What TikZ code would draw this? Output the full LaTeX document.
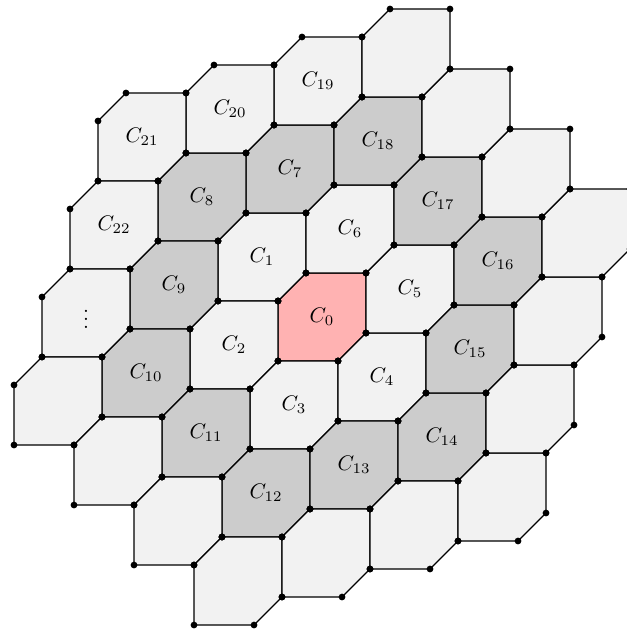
\documentclass[tikz,border=0pt]{standalone}
\begin{document}
\begin{tikzpicture}[x=0.0166667cm, y=-0.0166667cm]
\tikzset{
  hexcell/.style={draw=black, line width=0.6pt, line join=round},
  lightcell/.style={hexcell, fill=gray!10},
  darkcell/.style={hexcell, fill=gray!40},
  centercell/.style={hexcell, fill=red!30},
  vertexdot/.style={fill=black},
  celllabel/.style={inner sep=0pt}
}
\path[use as bounding box, clip] (0,0) rectangle (627,635);
% cells: a/b/style  (position = a*T1 + b*T2)
\foreach \a/\b/\s in {
  0/0/centercell,
  -1/1/lightcell, -1/0/lightcell, 0/-1/lightcell, 1/-1/lightcell, 1/0/lightcell, 0/1/lightcell,
  -1/2/darkcell, -2/2/darkcell, -2/1/darkcell, -2/0/darkcell, -1/-1/darkcell, 0/-2/darkcell,
  1/-2/darkcell, 2/-2/darkcell, 2/-1/darkcell, 2/0/darkcell, 1/1/darkcell, 0/2/darkcell,
  -1/3/lightcell, -2/3/lightcell, -3/3/lightcell, -3/2/lightcell, -3/1/lightcell, -3/0/lightcell,
  -2/-1/lightcell, -1/-2/lightcell, 0/-3/lightcell, 1/-3/lightcell, 2/-3/lightcell, 3/-3/lightcell,
  3/-2/lightcell, 3/-1/lightcell, 3/0/lightcell, 2/1/lightcell, 1/2/lightcell, 0/3/lightcell}{
  \pgfmathsetmacro{\px}{306+88*\a+28*\b}
  \pgfmathsetmacro{\py}{273-28*\a-88*\b}
  \path[\s] (\px,\py) -- ++(60,0) -- ++(0,60) -- ++(-28,28) -- ++(-60,0) -- ++(0,-60) -- cycle;
}
% vertex dots
\foreach \a/\b in {
  0/0, -1/1, -1/0, 0/-1, 1/-1, 1/0, 0/1,
  -1/2, -2/2, -2/1, -2/0, -1/-1, 0/-2, 1/-2, 2/-2, 2/-1, 2/0, 1/1, 0/2,
  -1/3, -2/3, -3/3, -3/2, -3/1, -3/0, -2/-1, -1/-2, 0/-3, 1/-3, 2/-3, 3/-3,
  3/-2, 3/-1, 3/0, 2/1, 1/2, 0/3}{
  \pgfmathsetmacro{\px}{306+88*\a+28*\b}
  \pgfmathsetmacro{\py}{273-28*\a-88*\b}
  \foreach \dx/\dy in {0/0, 60/0, 60/60, 32/88, -28/88, -28/28}{
    \fill[vertexdot] (\px+\dx,\py+\dy) circle (1.6pt);
  }
}
% labels
\foreach \a/\b/\l/\n in {
  0/0/{$C_0$}/c0, -1/1/{$C_1$}/c1, -1/0/{$C_2$}/c2, 0/-1/{$C_3$}/c3, 1/-1/{$C_4$}/c4,
  1/0/{$C_5$}/c5, 0/1/{$C_6$}/c6, -1/2/{$C_7$}/c7, -2/2/{$C_8$}/c8, -2/1/{$C_9$}/c9,
  -2/0/{$C_{10}$}/c10, -1/-1/{$C_{11}$}/c11, 0/-2/{$C_{12}$}/c12, 1/-2/{$C_{13}$}/c13,
  2/-2/{$C_{14}$}/c14, 2/-1/{$C_{15}$}/c15, 2/0/{$C_{16}$}/c16, 1/1/{$C_{17}$}/c17,
  0/2/{$C_{18}$}/c18, -1/3/{$C_{19}$}/c19, -2/3/{$C_{20}$}/c20, -3/3/{$C_{21}$}/c21,
  -3/2/{$C_{22}$}/c22, -3/1/{$\vdots$}/cdots}{
  \pgfmathsetmacro{\px}{306+88*\a+28*\b+16}
  \pgfmathsetmacro{\py}{273-28*\a-88*\b+44}
  \node[celllabel] (\n) at (\px,\py) {\l};
}
\end{tikzpicture}
\end{document}
